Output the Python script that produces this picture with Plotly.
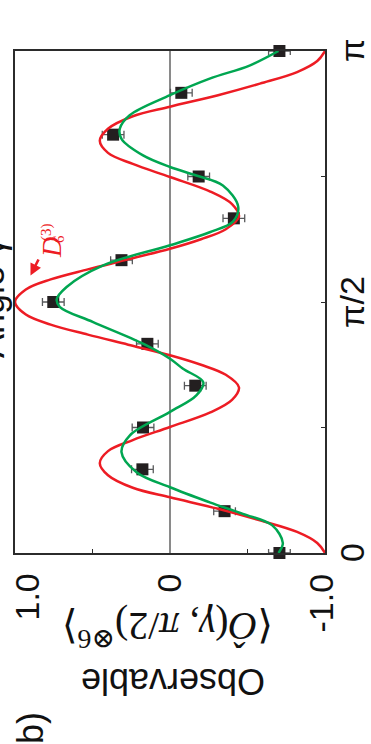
import plotly.graph_objects as go

# Measured observable vs. analysis angle gamma (angle given in units of pi)
gamma_meas = [0, 1/12, 2/12, 3/12, 4/12, 5/12, 6/12, 7/12, 8/12, 9/12, 10/12, 11/12, 1]
obs_meas = [-0.706, -0.352, 0.178, 0.174, -0.163, 0.146, 0.753, 0.313, -0.412,
            -0.185, 0.367, -0.073, -0.706]
obs_err = [0.07, 0.07, 0.07, 0.07, 0.07, 0.07, 0.07, 0.07, 0.07, 0.07, 0.07, 0.07, 0.07]

# Ideal D_6^(3) Dicke state prediction (red)
gamma_ideal = [0.000, 0.020, 0.042, 0.065, 0.088, 0.111, 0.130, 0.155, 0.179, 0.203,
               0.225, 0.251, 0.280, 0.305, 0.330, 0.355, 0.375, 0.394, 0.415, 0.435,
               0.455, 0.475, 0.500, 0.525, 0.545, 0.565, 0.585, 0.606, 0.625, 0.645,
               0.670, 0.695, 0.720, 0.749, 0.775, 0.797, 0.821, 0.845, 0.870, 0.889,
               0.912, 0.935, 0.958, 0.980, 1.000]
obs_ideal = [-1.00, -0.95, -0.82, -0.58, -0.31, 0.00, 0.24, 0.40, 0.453, 0.40,
             0.24, 0.00, -0.26, -0.40, -0.445, -0.36, -0.20, 0.00, 0.27, 0.53,
             0.77, 0.93, 1.00, 0.93, 0.77, 0.53, 0.27, 0.00, -0.20, -0.36,
             -0.445, -0.40, -0.26, 0.00, 0.24, 0.40, 0.453, 0.40, 0.24, 0.00,
             -0.31, -0.58, -0.82, -0.95, -1.00]

# Fit to the measured data (green)
gamma_fit = [0.000, 0.020, 0.055, 0.078, 0.101, 0.131, 0.161, 0.201, 0.234, 0.281,
             0.314, 0.340, 0.367, 0.387, 0.417, 0.460, 0.490, 0.505, 0.530, 0.573,
             0.613, 0.639, 0.660, 0.690, 0.732, 0.752, 0.769, 0.792, 0.825, 0.845,
             0.872, 0.912, 0.945, 0.971, 1.000]
obs_fit = [-0.70, -0.728, -0.66, -0.47, -0.256, 0.00, 0.216, 0.313, 0.26, 0.00,
           -0.17, -0.215, -0.084, 0.00, 0.174, 0.496, 0.71, 0.731, 0.667, 0.431,
           0.00, -0.256, -0.406, -0.44, -0.341, -0.17, 0.00, 0.174, 0.313, 0.324,
           0.26, 0.00, -0.256, -0.513, -0.70]

obs_ticks = [1.0, 0.0, -1.0]
obs_ticktext = ["1.0", "0", "-1.0"]
gamma_ticks = [0, 0.5, 1]
gamma_ticktext = ["0", "π/2", "π"]

RED = "#ed1c24"
GREEN = "#00a651"
INK = "#2b2b2b"
SANS = "Liberation Sans, Arial, sans-serif"
SERIF = "Liberation Serif, DejaVu Serif, serif"

fig = go.Figure()

fig.add_trace(go.Scatter(
    x=obs_meas, y=gamma_meas, mode="markers",
    marker=dict(symbol="square", size=12, color="#231f20"),
    error_x=dict(type="data", array=obs_err, visible=True,
                 color="#58595b", thickness=1.3, width=4),
    cliponaxis=False,
))
fig.add_trace(go.Scatter(
    x=obs_ideal, y=gamma_ideal, mode="lines",
    line=dict(color=RED, width=2.5, shape="spline", smoothing=1.0),
))
fig.add_trace(go.Scatter(
    x=obs_fit, y=gamma_fit, mode="lines",
    line=dict(color=GREEN, width=2.5, shape="spline", smoothing=1.0),
))

# plot area in pixels: left 15, right 325, top 51, bottom 553
L, R, T, B = 15, 325, 51, 553


def px(xp):
    return (xp - L) / (R - L)


def py(yp):
    return (B - yp) / (B - T)


annotations = []

# Observable axis tick labels (rotated)
obs_shift = [11, -2, -5]
for v, txt, sh in zip(obs_ticks, obs_ticktext, obs_shift):
    annotations.append(dict(
        x=v, xref="x", y=py(572), yref="paper", text=txt, showarrow=False,
        textangle=-90, xanchor="center", yanchor="top", xshift=sh,
        font=dict(family=SANS, size=34, color="#111"),
    ))

# gamma axis tick labels on the right side
for v, txt in zip(gamma_ticks, gamma_ticktext):
    annotations.append(dict(
        x=px(352), xref="paper", y=v, yref="y", text=txt, showarrow=False,
        textangle=-90, xanchor="center", yanchor="middle", borderpad=0,
        font=dict(family=SANS, size=34, color="#111"),
    ))

# Observable axis titles (upside down)
annotations.append(dict(
    x=px(173), xref="paper", y=py(682), yref="paper", text="Observable",
    showarrow=False, textangle=180, xanchor="center", yanchor="middle",
    font=dict(family=SANS, size=36, color="#111"),
))
annotations.append(dict(
    x=px(168), xref="paper", y=py(630), yref="paper",
    text="⟨<i>Ô</i>(<i>γ</i>, <i>π</i>/2)<sup>⊗6</sup>⟩",
    showarrow=False, textangle=180, xanchor="center", yanchor="middle",
    font=dict(family=SERIF, size=40, color="#111"),
))

# panel label and gamma title
annotations.append(dict(
    x=px(30), xref="paper", y=py(728), yref="paper", text="b)",
    showarrow=False, textangle=-90, xanchor="center", yanchor="middle",
    font=dict(family=SANS, size=36, color="#111"),
))
annotations.append(dict(
    x=px(-9), xref="paper", y=py(298), yref="paper", text="Angle γ",
    showarrow=False, textangle=-90, xanchor="center", yanchor="middle",
    font=dict(family=SANS, size=36, color="#111"),
))

# D_6^(3) curve label with arrow
annotations.append(dict(
    x=px(51), xref="paper", y=py(248), yref="paper", text="<i>D</i>",
    showarrow=False, textangle=-90, xanchor="center", yanchor="middle",
    font=dict(family=SERIF, size=28, color=RED),
))
annotations.append(dict(
    x=px(46), xref="paper", y=py(232), yref="paper", text="(3)",
    showarrow=False, textangle=-90, xanchor="center", yanchor="middle",
    font=dict(family=SERIF, size=15, color=RED),
))
annotations.append(dict(
    x=px(59), xref="paper", y=py(239), yref="paper", text="6",
    showarrow=False, textangle=-90, xanchor="center", yanchor="middle",
    font=dict(family=SERIF, size=15, color=RED),
))
annotations.append(dict(
    x=px(30.5), xref="paper", y=py(275.5), yref="paper", text=" ",
    showarrow=True, ax=9, ay=-18, arrowhead=2, arrowsize=0.9,
    arrowwidth=2.6, arrowcolor=RED, font=dict(size=1),
))

fig.update_layout(
    width=371, height=744,
    margin=dict(l=L, r=371 - R, t=T, b=744 - B),
    paper_bgcolor="white", plot_bgcolor="white",
    showlegend=False,
    annotations=annotations,
    xaxis=dict(
        range=[1.0, -1.0], showgrid=False,
        zeroline=True, zerolinecolor="#8a8a8a", zerolinewidth=1.6,
        showline=True, mirror=True, linecolor=INK, linewidth=1.6,
        ticks="inside", tickvals=[0.5, -0.5], ticklen=4, tickcolor=INK,
        tickwidth=1, showticklabels=False,
    ),
    yaxis=dict(
        range=[0, 1], side="right", showgrid=False, zeroline=False,
        showline=True, mirror=True, linecolor=INK, linewidth=1.6,
        ticks="inside", tickvals=[0.25, 0.5, 0.75], ticklen=4, tickcolor=INK,
        tickwidth=1, showticklabels=False,
    ),
)

fig.write_html("out.html")
